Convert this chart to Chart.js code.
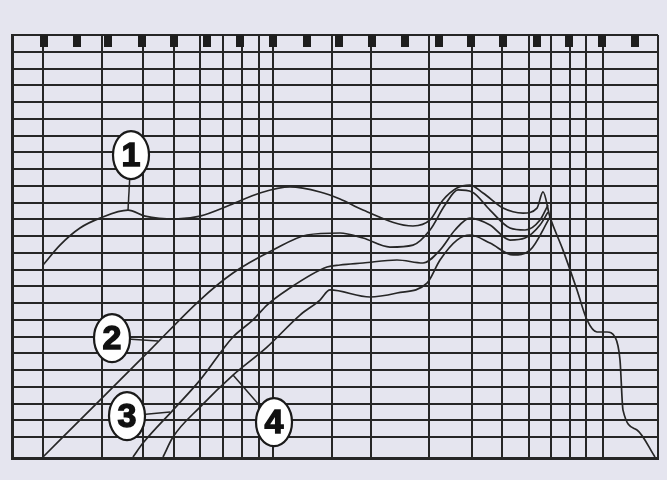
<!DOCTYPE html>
<html>
<head>
<meta charset="utf-8">
<script src="https://cdn.jsdelivr.net/npm/chart.js@4.4.1/dist/chart.umd.min.js"></script>
<style>
  html, body { margin: 0; padding: 0; background: #e5e5ef; }
  #wrap { width: 667px; height: 480px; position: relative; }
</style>
</head>
<body>
<div id="wrap"><canvas id="responseChart"></canvas></div>
<script>
// vertical grid positions (x axis units), irregular like the printed sheet
const gridX = [0, 31, 90, 131, 162, 188, 211, 230, 247, 261, 320, 359, 417, 460, 490, 517, 539, 558, 574, 591, 646];
// horizontal grid steps
const gridY = [0, 1, 2, 3, 4, 5, 6, 7, 8, 9, 10, 11, 12, 13, 14, 15, 16, 17, 18, 19, 20, 21, 22, 23, 24];
// small black markers along the top edge
const markerX = [32, 65, 96, 130, 162, 195, 228, 261, 295, 327, 360, 393, 427, 459, 491, 525, 557, 590, 623];
const markerY = 23.64;

// curves [x, y]
const curve1 = [[31, 10.27], [48, 11.46], [68, 12.48], [88, 13.07], [116, 13.55], [133, 13.19], [163, 13.01], [188, 13.19],
  [218, 13.85], [248, 14.57], [278, 14.93], [308, 14.63], [328, 14.21], [351, 13.55], [401, 12.6], [418, 12.96],
  [431, 14.15], [445, 14.87], [458, 15.04], [471, 14.57], [491, 13.67], [511, 13.37], [525, 13.67], [531, 14.63],
  [538, 13.13], [551, 11.16], [565, 8.78], [575, 6.99], [585, 6.27], [595, 6.27], [603, 5.97], [608, 4.6],
  [611, 1.61], [625, 0.42], [643, -1.19]];
const curve2 = [[31, -1.19], [88, 2.21], [138, 5.19], [188, 8.18], [221, 9.79], [261, 11.16], [295, 12.06], [328, 12.18],
  [351, 11.88], [378, 11.34], [401, 11.46], [418, 12.36], [433, 13.85], [446, 14.75], [460, 14.63], [478, 13.55],
  [498, 12.48], [513, 12.36], [528, 12.96], [536, 13.85]];
const curve3 = [[121, -1.19], [131, -0.36], [161, 1.61], [188, 3.4], [221, 5.97], [241, 6.99], [255, 7.88], [275, 8.78],
  [315, 10.15], [328, 10.27], [351, 10.39], [385, 10.57], [411, 10.39], [428, 11.16], [443, 12.36], [458, 13.07],
  [478, 12.66], [498, 11.76], [513, 11.88], [528, 12.66], [536, 13.43]];
const curve4 = [[151, -1.19], [161, 0], [188, 1.79], [221, 3.7], [255, 5.37], [288, 7.28], [308, 8.18], [318, 8.78],
  [358, 8.36], [385, 8.6], [415, 9.19], [428, 10.57], [445, 11.76], [458, 12.06], [478, 11.58], [501, 10.87],
  [518, 11.16], [538, 13.13]];

// numbered callouts: anchor on the curve, then offset of the badge in px
const callouts = [
  { text: '1', at: [116, 13.55], dx: 3, dy: -55 },
  { text: '2', at: [146, 5.73], dx: -46, dy: -3 },
  { text: '3', at: [158, 1.49], dx: -43, dy: 4 },
  { text: '4', at: [221, 3.7], dx: 41, dy: 47 },
];

const ink = '#262626';

const markerImg = document.createElement('canvas');
markerImg.width = 8;
markerImg.height = 12;
const mctx = markerImg.getContext('2d');
mctx.fillStyle = '#1e1e1e';
mctx.fillRect(0, 0, 8, 12);

const toPts = (arr) => arr.map(p => ({ x: p[0], y: p[1] }));

const curveStyle = {
  type: 'line',
  borderColor: ink,
  borderWidth: 1.7,
  pointRadius: 0,
  fill: false,
  cubicInterpolationMode: 'monotone',
};

const calloutPlugin = {
  id: 'callouts',
  afterDatasetsDraw(chart) {
    const { ctx, scales: { x, y } } = chart;
    ctx.save();
    callouts.forEach(c => {
      const ax = x.getPixelForValue(c.at[0]);
      const ay = y.getPixelForValue(c.at[1]);
      const cx = ax + c.dx;
      const cy = ay + c.dy;
      // leader
      ctx.strokeStyle = ink;
      ctx.lineWidth = 1.5;
      ctx.beginPath();
      ctx.moveTo(ax, ay);
      ctx.lineTo(cx, cy);
      ctx.stroke();
      // badge
      ctx.beginPath();
      ctx.ellipse(cx, cy, 18, 24, 0, 0, Math.PI * 2);
      ctx.fillStyle = '#ffffff';
      ctx.fill();
      ctx.lineWidth = 2.2;
      ctx.strokeStyle = '#1a1a1a';
      ctx.stroke();
      ctx.fillStyle = '#111';
      ctx.strokeStyle = '#111';
      ctx.lineWidth = 1.4;
      ctx.font = 'bold 34px "Liberation Sans", Arial, sans-serif';
      ctx.textAlign = 'center';
      ctx.textBaseline = 'middle';
      ctx.fillText(c.text, cx, cy + 2);
      ctx.strokeText(c.text, cx, cy + 2);
    });
    ctx.restore();
  }
};

new Chart(document.getElementById('responseChart').getContext('2d'), {
  type: 'scatter',
  data: {
    datasets: [
      { ...curveStyle, data: toPts(curve1) },
      { ...curveStyle, data: toPts(curve2) },
      { ...curveStyle, data: toPts(curve3) },
      { ...curveStyle, data: toPts(curve4) },
      {
        type: 'scatter',
        data: markerX.map(v => ({ x: v, y: markerY })),
        pointStyle: markerImg,
        pointRadius: 5,
      },
    ],
  },
  options: {
    responsive: true,
    maintainAspectRatio: false,
    animation: false,
    layout: { padding: { left: 12, top: 35, right: 9, bottom: 22 } },
    plugins: { legend: { display: false }, tooltip: { enabled: false } },
    scales: {
      x: {
        type: 'linear',
        min: 0,
        max: 646,
        afterBuildTicks: (scale) => { scale.ticks = gridX.map(v => ({ value: v })); },
        ticks: { display: false },
        grid: { color: ink, lineWidth: 2, drawTicks: false },
        border: { display: true, color: ink, width: 3 },
      },
      y: {
        type: 'linear',
        min: -1.25,
        max: 24,
        afterBuildTicks: (scale) => { scale.ticks = gridY.map(v => ({ value: v })); },
        ticks: { display: false },
        grid: { color: ink, lineWidth: 2, drawTicks: false },
        border: { display: true, color: ink, width: 3 },
      },
    },
  },
  plugins: [calloutPlugin],
});
</script>
</body>
</html>
